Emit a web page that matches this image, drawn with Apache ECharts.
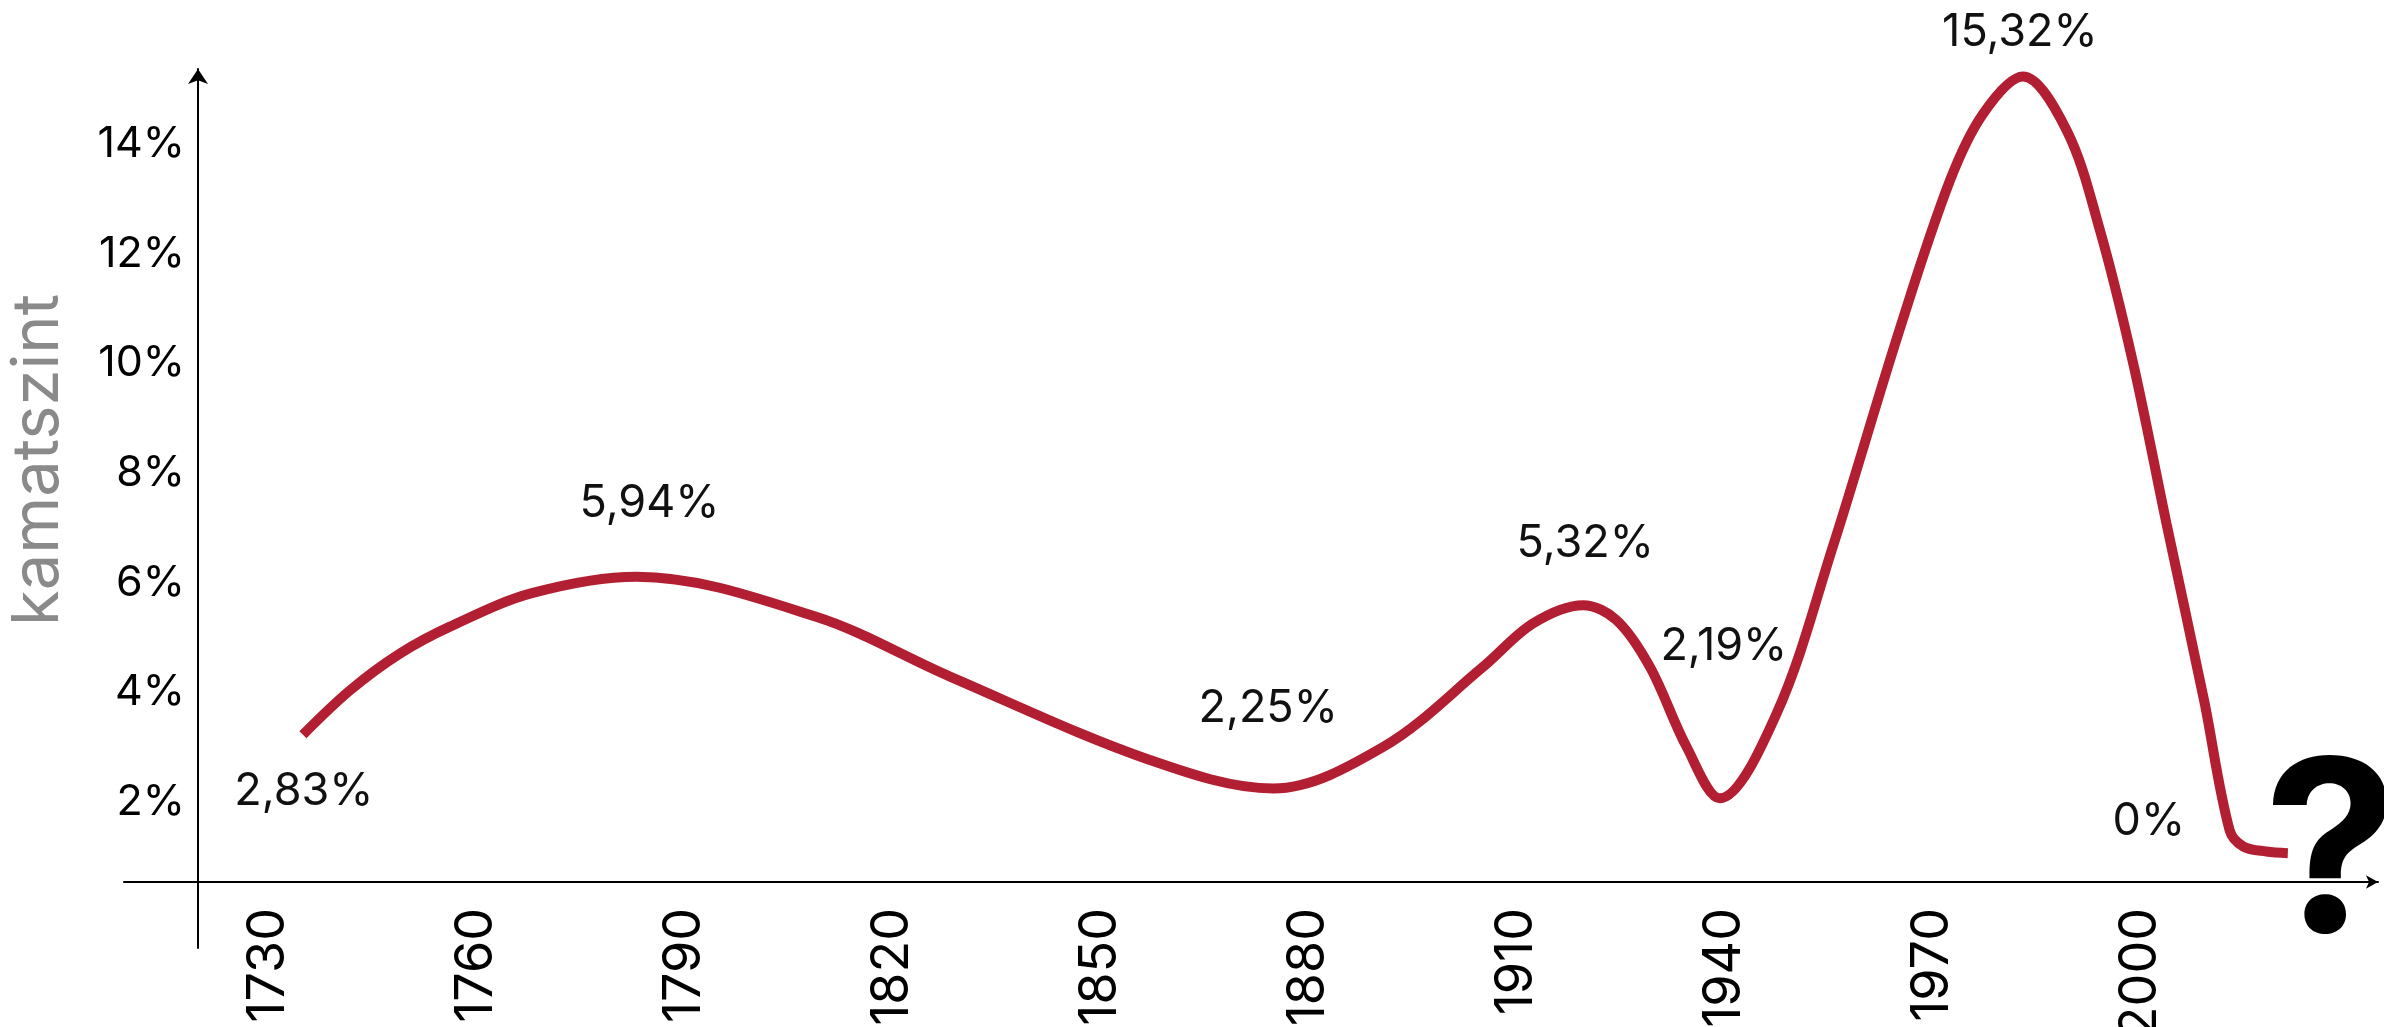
<!DOCTYPE html>
<html>
<head>
<meta charset="utf-8">
<script src="https://cdn.jsdelivr.net/npm/echarts@6/dist/echarts.min.js"></script>
<style>
  html, body { margin: 0; padding: 0; background: #fff; }
  #chart { width: 2384px; height: 1027px; }
</style>
</head>
<body>
<div id="chart"></div>
<script>
// points (year, interest rate %)
const years = [1735, 1741.8, 1749, 1756.2, 1768, 1783.1, 1809, 1828.3, 1857.1, 1874.9, 1890.8, 1905.2, 1912.4, 1919.6, 1924.4, 1929.2, 1934.5, 1939.3, 1947.5, 1955.6, 1965.2, 1972.5, 1977.3, 1983, 1989.3, 1994.1, 1998.9, 2003.7, 2009.1, 2012.8, 2014.8, 2018.1, 2021.2]
const rates = [3.23, 4.04, 4.71, 5.2, 5.81, 6.11, 5.38, 4.29, 2.77, 2.25, 3.01, 4.47, 5.26, 5.59, 5.32, 4.47, 3.01, 2.07, 3.62, 6.66, 10.61, 13.34, 14.56, 15.23, 14.25, 12.43, 10.0, 7.08, 3.87, 1.49, 1.19, 1.1, 1.07]

// annotated points and their texts
const labelYears = [1735, 1783.1, 1874.9, 1919.6, 1939.3, 1983, 2021.2]
const labelTexts = ['2,83%', '5,94%', '2,25%', '5,32%', '2,19%', '15,32%', '0%']

const xTicks = [1730, 1760, 1790, 1820, 1850, 1880, 1910, 1940, 1970, 2000]
const yTicks = [2, 4, 6, 8, 10, 12, 14]

// where each annotation sits relative to its point (px)
const labelOffsets = [[1, 57], [13, -73], [-5, -80], [2, -62], [4, -152], [-3, -44], [-139, -32]]

const FONT = 'Inter'

function buildSeriesData() {
  return years.map((year, i) => {
    let item = { value: [year, rates[i]] }
    let k = labelYears.indexOf(year)
    if (k >= 0) {
      item.label = {
        show: true,
        formatter: labelTexts[k],
        offset: labelOffsets[k]
      }
    }
    return item
  })
}

let myChart = echarts.init(document.getElementById('chart'))

let option = {
  animation: false,
  grid: {
    left: 124,
    right: 6,
    top: 69,
    bottom: 79,
    containLabel: false,
    outerBoundsMode: 'none'
  },
  xAxis: {
    type: 'value',
    min: 1709.2,
    max: 2034.2,
    axisLine: {
      onZeroAxisIndex: 1,
      symbol: ['none', 'arrow'],
      symbolSize: [10, 12],
      lineStyle: { color: '#000', width: 2 }
    },
    axisTick: { show: false },
    splitLine: { show: false },
    axisLabel: {
      customValues: xTicks,
      formatter: function(v) {
        return String(v)
      },
      rotate: 90,
      margin: -40,
      fontFamily: FONT,
      fontSize: 52,
      color: '#000'
    }
  },
  yAxis: [
    {
      type: 'value',
      min: -0.659,
      max: 15.367,
      offset: -74,
      name: 'kamatszint',
      nameLocation: 'middle',
      nameRotate: 90,
      nameGap: 127,
      nameTextStyle: {
        fontFamily: FONT,
        fontSize: 65,
        color: '#8a8a8a',
        padding: [0, 0, 0, 97]
      },
      axisLine: {
        show: true,
        symbol: ['none', 'arrow'],
        symbolSize: [15, 15],
        lineStyle: { color: '#000', width: 2 }
      },
      axisTick: { show: false },
      splitLine: { show: false },
      axisLabel: {
        customValues: yTicks,
        formatter: '{value}%',
        margin: 13,
        fontFamily: FONT,
        fontSize: 43,
        color: '#000'
      }
    },
    {
      // helper axis: its zero is where the year axis is drawn
      type: 'value',
      min: -66,
      max: 813,
      show: false
    }
  ],
  graphic: [
    {
      type: 'text',
      x: 2331,
      y: 860,
      style: {
        text: '?',
        font: 'bold 240px Inter',
        fill: '#000',
        align: 'center',
        verticalAlign: 'middle'
      }
    }
  ],
  series: [
    {
      type: 'line',
      xAxisIndex: 0,
      yAxisIndex: 0,
      data: buildSeriesData(),
      smooth: 0.34,
      showSymbol: true,
      symbol: 'circle',
      symbolSize: 0,
      lineStyle: { color: '#b31f32', width: 10 },
      itemStyle: { color: '#b31f32' },
      label: {
        position: 'inside',
        fontFamily: FONT,
        fontSize: 45,
        color: '#111'
      }
    }
  ]
}

myChart.setOption(option)
window.addEventListener('resize', function() {
  myChart.resize()
})
</script>
</body>
</html>
